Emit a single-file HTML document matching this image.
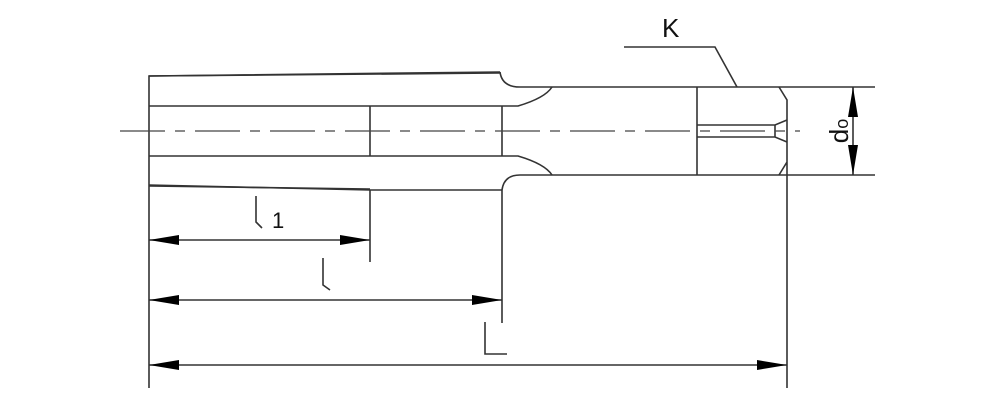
<!DOCTYPE html>
<html><head><style>html,body{margin:0;padding:0;background:#fff}svg{display:block}</style></head><body>
<svg width="1000" height="400" viewBox="0 0 1000 400" xmlns="http://www.w3.org/2000/svg">
<defs>
<marker id="a" viewBox="0 0 30 10" refX="30" refY="5" markerWidth="30" markerHeight="10" markerUnits="userSpaceOnUse" orient="auto-start-reverse"><path d="M0,0 L30,5 L0,10 Z" fill="#000"/></marker>
<marker id="b" viewBox="0 0 10 30" refX="5" refY="0" markerWidth="10" markerHeight="30" markerUnits="userSpaceOnUse" orient="0"><path d="M5,0 L10,30 L0,30 Z" fill="#000"/></marker>
<marker id="c" viewBox="0 0 10 30" refX="5" refY="30" markerWidth="10" markerHeight="30" markerUnits="userSpaceOnUse" orient="0"><path d="M5,30 L10,0 L0,0 Z" fill="#000"/></marker>
</defs>
<g fill="none" stroke="#333" stroke-width="1.6">
<!-- body -->
<path d="M149,388 V76 L500,72"/>
<path d="M149,76 L500,73"/>
<path d="M500,72 Q502,87 520,87 H875"/>
<path d="M149,185 L370,190 H502"/>
<path d="M149,186 L370,189"/>
<path d="M502,190 Q504,175 520,175 H875"/>
<path d="M149,106 H518 Q545,98 552,87"/>
<path d="M149,156 H518 Q545,164 552,175"/>
<path d="M370,106 V156 M502,106 V156"/>
<path d="M370,190 V262 M502,190 V323"/>
<!-- right end -->
<path d="M697,87 V175"/>
<path d="M697,125 H775 L787,120 M697,137 H775 L787,142 M775,125 V137"/>
<path d="M779,87 L787,100 V388 M787,162 L779,175"/>
<!-- K leader -->
<path d="M624,47 H715 L737,87"/>
<!-- dims -->
<path d="M149,240 H370" marker-start="url(#a)" marker-end="url(#a)"/>
<path d="M149,300 H502" marker-start="url(#a)" marker-end="url(#a)"/>
<path d="M149,365 H787" marker-start="url(#a)" marker-end="url(#a)"/>
<path d="M853,87 V175" marker-start="url(#b)" marker-end="url(#c)"/>
<!-- letter strokes -->
<path d="M256,196 V222 L262,228"/>
<path d="M323,258 V285 L330,290"/>
<path d="M485,322 V354 H507"/>
</g>
<path d="M120,131 H800" stroke="#444" stroke-width="1.3" stroke-dasharray="45,10,10,10"/>
<g font-family="Liberation Sans, sans-serif" fill="#111">
<text x="662" y="37" font-size="26">K</text>
<text x="272" y="228" font-size="22">1</text>
<text transform="translate(848,131) rotate(-90)" font-size="26" text-anchor="middle">d<tspan font-size="18">o</tspan></text>
</g>
</svg>
</body></html>
